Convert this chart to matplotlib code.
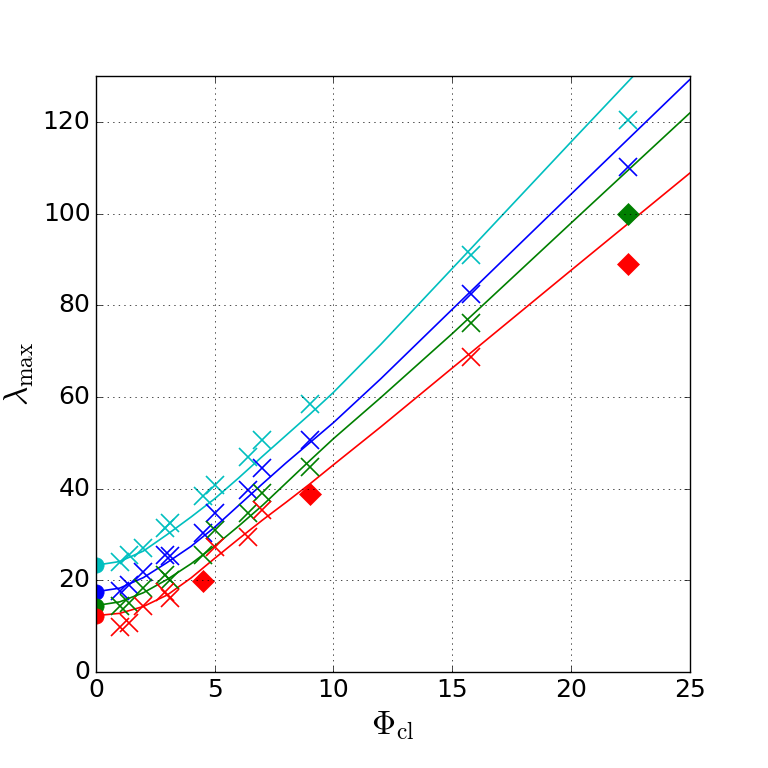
import numpy as np
import matplotlib
matplotlib.use('Agg')
import matplotlib.pyplot as plt

plt.style.use('classic')
plt.rcParams['mathtext.fontset'] = 'cm'

# fitted curves
x_line = [0, 1, 2, 3, 4, 5, 6, 7, 8, 9, 10, 12, 15, 20, 25]
cyan_line = [23.3, 24.1, 26.4, 30.0, 33.8, 37.8, 42.3, 47.0, 51.6, 56.2, 61.0, 71.5, 88.0, 115.6, 143.0]
blue_line = [17.5, 18.3, 20.6, 23.9, 27.4, 31.6, 36.3, 41.0, 45.6, 50.0, 54.4, 64.0, 79.1, 104.2, 129.2]
green_line = [14.5, 15.3, 17.3, 20.2, 23.6, 27.5, 31.8, 36.3, 41.2, 46.1, 50.9, 59.9, 73.8, 97.9, 121.9]
red_line = [12.3, 12.8, 14.3, 16.8, 20.5, 24.8, 29.0, 33.1, 37.0, 41.0, 45.2, 53.5, 66.3, 87.6, 108.8]

# measured points (crosses)
x_pts = [1.0, 1.4, 2.0, 2.9, 3.1, 4.5, 5.0, 6.4, 7.0, 9.0, 15.8, 22.4]
cyan_pts = [24.1, 25.5, 27.0, 31.4, 32.4, 38.3, 40.8, 47.0, 50.6, 58.4, 91.0, 120.4]
blue_pts = [17.6, 19.0, 21.9, 25.5, 25.2, 30.3, 34.6, 39.7, 44.4, 50.6, 82.5, 110.2]
x_green = [1.0, 1.4, 2.0, 2.9, 3.1, 4.5, 5.0, 6.4, 7.0, 9.0, 15.8]
green_pts = [14.3, 15.0, 18.3, 21.2, 20.1, 25.6, 31.0, 34.6, 39.0, 44.8, 76.2]
x_red = [1.0, 1.4, 2.0, 2.9, 3.1, 5.0, 6.4, 7.0, 15.8]
red_pts = [9.9, 10.6, 14.3, 17.5, 16.1, 27.3, 29.5, 35.3, 68.7]

# diamonds
x_green_d = [22.4]
green_d = [99.9]
x_red_d = [4.5, 9.0, 22.4]
red_d = [19.8, 38.8, 89.0]

# values at zero
zero_vals = [23.3, 17.5, 14.5, 12.3]
colors = ['c', 'b', 'g', 'r']

fig = plt.figure(figsize=(7.68, 7.68), facecolor='white')
ax = fig.add_axes([0.125, 0.125, 0.773, 0.776])

for yl, c in zip([cyan_line, blue_line, green_line, red_line], colors):
    ax.plot(x_line, yl, '-', color=c, lw=1.2)

for xs, ys, c in [(x_pts, cyan_pts, 'c'), (x_pts, blue_pts, 'b'),
                  (x_green, green_pts, 'g'), (x_red, red_pts, 'r')]:
    ax.plot(xs, ys, 'x', color=c, ms=13, mew=1.2, mec=c)

ax.plot(x_green_d, green_d, 'D', color='g', mec='g', ms=11)
ax.plot(x_red_d, red_d, 'D', color='r', mec='r', ms=11)

for v, c in zip(zero_vals, colors):
    ax.plot([0], [v], 'o', color=c, mec=c, ms=11)

ax.set_xlim(0, 25)
ax.set_ylim(0, 130)
ax.set_xticks([0, 5, 10, 15, 20, 25])
ax.set_yticks([0, 20, 40, 60, 80, 100, 120])
ax.grid(True)
ax.tick_params(labelsize=18)
ax.set_xlabel(r'$\Phi_{\rm cl}$', fontsize=24)
ax.set_ylabel(r'$\lambda_{\rm max}$', fontsize=24)

fig.savefig('out.png', dpi=100, facecolor='white')
